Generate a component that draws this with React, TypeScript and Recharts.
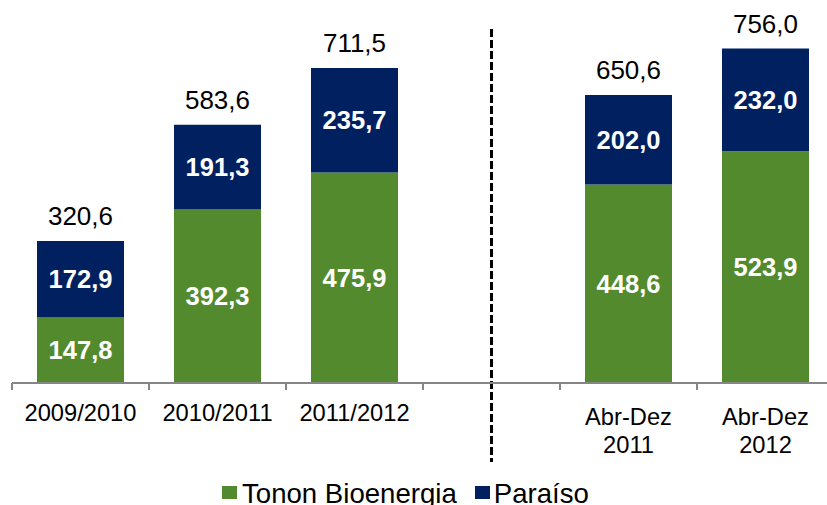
import { BarChart, Bar, XAxis, YAxis, LabelList, ReferenceLine, Legend } from "recharts";

const categories = ["2009/2010", "2010/2011", "2011/2012", " ", "Abr-Dez\n2011", "Abr-Dez\n2012"];
const tonon = [147.8, 392.3, 475.9, null, 448.6, 523.9];
const paraiso = [172.9, 191.3, 235.7, null, 202.0, 232.0];
const totals = [320.6, 583.6, 711.5, null, 650.6, 756.0];

const GREEN = "#538A2E";
const NAVY = "#002060";
const FONT = "'Liberation Sans', Arial, sans-serif";

const CHART_W = 835;
const MARGIN = { top: 29, right: 1, left: 12, bottom: 42 };
const BAND = (CHART_W - MARGIN.left - MARGIN.right) / categories.length;

const data = categories.map((name, i) => ({
  name,
  tonon: tonon[i],
  paraiso: paraiso[i],
  total: totals[i],
}));

const fmt = (v: any) => (v == null ? "" : Number(v).toFixed(1).replace(".", ","));

const CategoryTick = (props: any) => {
  const { x, y, payload, index } = props;
  const lines = String(payload.value).trim() ? String(payload.value).split("\n") : [];
  const first = lines.length > 1 ? 42 : 38;
  return (
    <g>
      <line x1={x - BAND / 2} x2={x - BAND / 2} y1={y} y2={y + 7} stroke="#868686" strokeWidth={2} />
      {index === categories.length - 1 && (
        <line x1={x + BAND / 2} x2={x + BAND / 2} y1={y} y2={y + 7} stroke="#868686" strokeWidth={2} />
      )}
      {lines.map((t, i) => (
        <text key={i} x={x} y={y + first + i * 28} textAnchor="middle" fontSize={23.7} fill="#000" fontFamily={FONT}>
          {t}
        </text>
      ))}
    </g>
  );
};

const LegendContent = () => (
  <div style={{ display: "flex", alignItems: "flex-start", fontFamily: FONT, fontSize: 27.6, lineHeight: "30px", color: "#000", whiteSpace: "nowrap" }}>
    <span style={{ width: 15, height: 13, marginTop: 7, marginRight: 5, background: GREEN, display: "inline-block" }} />
    <span style={{ marginRight: 18 }}>Tonon Bioenergia</span>
    <span style={{ width: 15, height: 13, marginTop: 7, marginRight: 4, background: NAVY, display: "inline-block" }} />
    <span>Paraíso</span>
  </div>
);

const DashedLine = (p: any) => (
  <line
    x1={p.x1}
    x2={p.x2}
    y1={Math.min(p.y1, p.y2)}
    y2={Math.max(p.y1, p.y2) + 79}
    stroke="#000"
    strokeWidth={3}
    strokeDasharray="8 3"
  />
);

export default function App() {
  return (
    <div style={{ position: "absolute", left: 0, top: 0, width: 827, height: 505, overflow: "hidden", background: "#fff" }}>
      <BarChart width={CHART_W} height={505} data={data} margin={MARGIN}>
        <XAxis
          dataKey="name"
          height={80}
          interval={0}
          tickLine={false}
          tickSize={0}
          tickMargin={0}
          axisLine={{ stroke: "#868686", strokeWidth: 2 }}
          tick={<CategoryTick />}
        />
        <YAxis hide domain={[0, 800]} />
        <ReferenceLine x=" " shape={<DashedLine />} />
        <Bar dataKey="tonon" stackId="a" fill={GREEN} barSize={87} isAnimationActive={false}>
          <LabelList dataKey="tonon" position="center" formatter={fmt} fill="#fff" fontSize={25.5} fontWeight="bold" fontFamily={FONT} />
        </Bar>
        <Bar dataKey="paraiso" stackId="a" fill={NAVY} barSize={87} isAnimationActive={false}>
          <LabelList dataKey="paraiso" position="center" formatter={fmt} fill="#fff" fontSize={25.5} fontWeight="bold" fontFamily={FONT} />
          <LabelList dataKey="total" position="top" offset={16} formatter={fmt} fill="#000" fontSize={26} fontFamily={FONT} />
        </Bar>
        <Legend
          layout="horizontal"
          verticalAlign="middle"
          align="center"
          content={<LegendContent />}
          wrapperStyle={{ left: 222, top: 479, width: "auto" }}
        />
      </BarChart>
    </div>
  );
}
